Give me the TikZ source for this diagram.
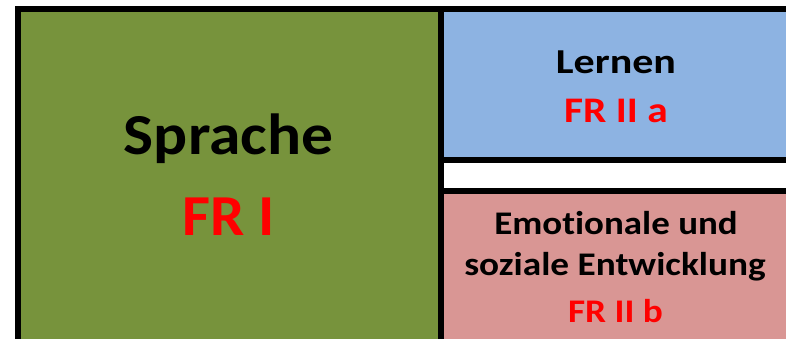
\documentclass[tikz,border=0pt]{standalone}
\usepackage{fontspec}
\usepackage{graphicx}
\setmainfont{Carlito}[Ligatures=NoCommon]
\definecolor{olivegreen}{HTML}{77933C}
\definecolor{lightblue}{HTML}{8DB3E2}
\definecolor{rosepink}{HTML}{D99694}
\definecolor{frred}{HTML}{FF0000}
\tikzset{
  panel/.style={draw=black, line width=6pt},
  lbl/.style={anchor=base, inner sep=0pt, font=\bfseries},
}
\newcommand{\wide}[2]{\scalebox{#1}[1]{#2}}
\begin{document}
\begin{tikzpicture}[x=1pt,y=-1pt]
\useasboundingbox (0,0) rectangle (786,339);
\clip (0,0) rectangle (786,339);
\fill[white] (0,0) rectangle (786,339);
\path[panel, fill=olivegreen] (18,9) rectangle (441,360);
\path[panel, fill=lightblue] (441,9) rectangle (800,160.5);
\path[panel, fill=rosepink] (441,190.5) rectangle (800,360);
\node[lbl, font=\bfseries\fontsize{58}{60}\selectfont] (sprache) at (228.5,155) {\wide{1.095}{Sprache}};
\node[lbl, font=\bfseries\fontsize{58}{60}\selectfont, text=frred] (fri) at (229,235) {\wide{1.05}{FR I}};
\node[lbl, font=\bfseries\fontsize{35}{37}\selectfont] (lernen) at (616,74) {\wide{1.2}{Lernen}};
\node[lbl, font=\bfseries\fontsize{36}{38}\selectfont, text=frred] (fria) at (616,123) {\wide{1.15}{FR II a}};
\node[lbl, font=\bfseries\fontsize{33}{35}\selectfont] (emo) at (616,234) {\wide{1.12}{Emotionale und}};
\node[lbl, font=\bfseries\fontsize{33}{35}\selectfont] (soz) at (615,275) {\wide{1.13}{soziale Entwicklung}};
\node[lbl, font=\bfseries\fontsize{33}{35}\selectfont, text=frred] (frib) at (615.5,322) {\wide{1.13}{FR II b}};
\end{tikzpicture}
\end{document}
